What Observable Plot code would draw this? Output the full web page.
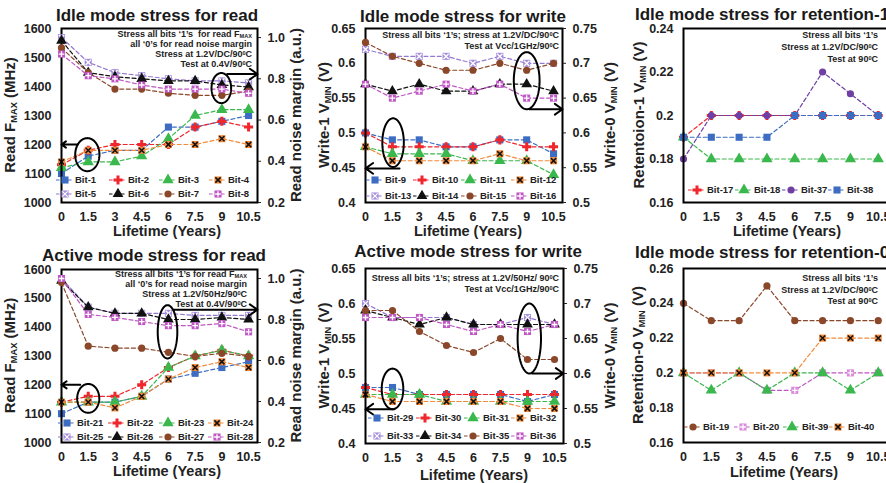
<!DOCTYPE html>
<html>
<head>
<meta charset="utf-8">
<script src="https://cdn.jsdelivr.net/npm/d3@7"></script>
<script src="https://cdn.jsdelivr.net/npm/@observablehq/plot@0.6"></script>
<style>
html,body{margin:0;padding:0;background:#fff;}
#root{position:relative;width:886px;height:483px;overflow:hidden;background:#fff;}
#root svg{position:absolute;left:0;top:0;}
</style>
</head>
<body>
<div id="root"></div>
<script>
// ---------- data ----------
const years = [0, 1.5, 3, 4.5, 6, 7.5, 9, 10.5];
const xTickLabels = years;

// Idle mode read: F_MAX (MHz) and noise margin (a.u.)
const bit1 = [1100, 1160, 1180, 1180, 1260, 1260, 1280, 1300];
const bit2 = [1130, 1180, 1200, 1200, 1200, 1260, 1280, 1260];
const bit3 = [1120, 1140, 1140, 1160, 1220, 1300, 1320, 1320];
const bit4 = [1140, 1180, 1180, 1180, 1200, 1200, 1220, 1200];
const bit5 = [1.0, 0.88, 0.83, 0.815, 0.80, 0.79, 0.79, 0.78];
const bit6 = [0.985, 0.83, 0.81, 0.80, 0.79, 0.79, 0.77, 0.76];
const bit7 = [0.95, 0.83, 0.75, 0.75, 0.73, 0.72, 0.72, 0.74];
const bit8 = [0.92, 0.815, 0.80, 0.77, 0.75, 0.75, 0.75, 0.73];
// Idle mode write: Write-1 VMIN and Write-0 VMIN (V)
const bit9  = [0.50, 0.49, 0.49, 0.48, 0.48, 0.49, 0.49, 0.47];
const bit10 = [0.50, 0.48, 0.48, 0.48, 0.48, 0.49, 0.48, 0.48];
const bit11 = [0.48, 0.47, 0.47, 0.47, 0.46, 0.46, 0.46, 0.44];
const bit12 = [0.48, 0.46, 0.46, 0.46, 0.46, 0.47, 0.46, 0.46];
const bit13 = [0.72, 0.71, 0.71, 0.71, 0.70, 0.71, 0.70, 0.70];
const bit14 = [0.67, 0.66, 0.67, 0.66, 0.66, 0.67, 0.67, 0.66];
const bit15 = [0.73, 0.71, 0.70, 0.69, 0.69, 0.70, 0.69, 0.70];
const bit16 = [0.67, 0.65, 0.66, 0.67, 0.66, 0.67, 0.65, 0.65];
// Idle mode retention-1 VMIN (V)
const bit17 = [0.19, 0.20, 0.20, 0.20, 0.20, 0.20, 0.20, 0.20];
const bit18 = [0.19, 0.18, 0.18, 0.18, 0.18, 0.18, 0.18, 0.18];
const bit37 = [0.18, 0.20, 0.20, 0.20, 0.20, 0.22, 0.21, 0.20];
const bit38 = [0.19, 0.19, 0.19, 0.19, 0.20, 0.20, 0.20, 0.20];
// Active mode read
const bit21 = [1100, 1140, 1140, 1160, 1220, 1240, 1260, 1280];
const bit22 = [1140, 1160, 1160, 1200, 1260, 1300, 1320, 1300];
const bit23 = [1140, 1140, 1140, 1160, 1260, 1300, 1320, 1300];
const bit24 = [1140, 1140, 1120, 1160, 1220, 1260, 1280, 1260];
const bit25 = [1.0, 0.86, 0.83, 0.83, 0.83, 0.82, 0.82, 0.82];
const bit26 = [0.99, 0.86, 0.83, 0.83, 0.80, 0.80, 0.81, 0.80];
const bit27 = [0.98, 0.67, 0.66, 0.66, 0.64, 0.62, 0.635, 0.62];
const bit28 = [1.0, 0.825, 0.81, 0.79, 0.77, 0.77, 0.78, 0.74];
// Active mode write
const bit29 = [0.48, 0.48, 0.47, 0.47, 0.47, 0.47, 0.46, 0.47];
const bit30 = [0.48, 0.47, 0.47, 0.47, 0.47, 0.47, 0.47, 0.47];
const bit31 = [0.47, 0.47, 0.47, 0.46, 0.46, 0.46, 0.46, 0.46];
const bit32 = [0.47, 0.46, 0.46, 0.46, 0.46, 0.46, 0.45, 0.45];
const bit33 = [0.70, 0.68, 0.68, 0.68, 0.67, 0.67, 0.68, 0.67];
const bit34 = [0.69, 0.68, 0.67, 0.68, 0.67, 0.67, 0.67, 0.67];
const bit35 = [0.69, 0.69, 0.66, 0.64, 0.63, 0.65, 0.62, 0.62];
const bit36 = [0.68, 0.68, 0.68, 0.67, 0.66, 0.67, 0.66, 0.67];
// Idle mode retention-0 VMIN (V)
const bit19 = [0.24, 0.23, 0.23, 0.25, 0.23, 0.23, 0.23, 0.23];
const bit20 = [0.20, 0.20, 0.20, 0.19, 0.19, 0.20, 0.20, 0.20];
const bit39 = [0.20, 0.19, 0.20, 0.19, 0.20, 0.20, 0.19, 0.20];
const bit40 = [0.20, 0.20, 0.20, 0.20, 0.20, 0.22, 0.22, 0.22];

// tick values
const fmaxTicks = [1000, 1100, 1200, 1300, 1400, 1500, 1600];
const nmTicks = [0.2, 0.4, 0.6, 0.8, 1.0];
const w1Ticks = [0.4, 0.45, 0.5, 0.55, 0.6, 0.65];
const w0Ticks = [0.5, 0.55, 0.6, 0.65, 0.7, 0.75];
const r1Ticks = [0.16, 0.18, 0.2, 0.22, 0.24];
const r0Ticks = [0.16, 0.18, 0.2, 0.22, 0.24, 0.26];

// ---------- styles ----------
const FONT = "'Liberation Sans', Arial, Helvetica, sans-serif";
const C = {blue:"#3d6dc2", red:"#f0262c", green:"#3ab84d", orange:"#f28b3c", purple:"#9479cf",
           black:"#111", brown:"#8a472a", magenta:"#bf56c4", violet:"#6f3fa3"};
const M = {
  blueSquare: {line:C.blue, layers:[{symbol:"square", fill:C.blue, r:4}]},
  redCross: {line:C.red, layers:[{symbol:"cross", fill:C.red, r:3.8}]},
  greenTri: {line:C.green, layers:[{symbol:"triangle", fill:C.green, r:4.2}]},
  orangeX: {line:C.orange, layers:[{symbol:"square", fill:C.orange, r:4}, {symbol:"times", stroke:"#111", r:2.5, sw:1.5}]},
  purpleX: {line:C.purple, layers:[{symbol:"square", fill:"#a58ddb", r:4}, {symbol:"times", stroke:"#fff", r:2.5, sw:1.3}]},
  blackTri: {line:C.black, layers:[{symbol:"triangle", fill:C.black, r:4}]},
  brownCircle: {line:C.brown, layers:[{symbol:"circle", fill:C.brown, r:3.6}]},
  magentaPlus: {line:C.magenta, layers:[{symbol:"square", fill:C.magenta, r:4}, {symbol:"plus", stroke:"#fff", r:2, sw:1.3}]},
  magentaPlusLight: {line:C.magenta, layers:[{symbol:"square", fill:"#d98bdc", r:4}, {symbol:"plus", stroke:"#fff", r:2, sw:1.3}]},
  violetCircle: {line:C.violet, layers:[{symbol:"circle", fill:C.violet, r:3.6}]}
};
const symMap = {square:d3.symbolSquare, circle:d3.symbolCircle, triangle:d3.symbolTriangle,
                cross:d3.symbolCross, times:d3.symbolTimes, plus:d3.symbolPlus};

const STYLE = `background:transparent;max-width:none;overflow:visible;font-family:${FONT};font-size:12.5px;font-weight:bold;color:#222;`;

// ---------- panels ----------
const panels = [
  {L:61, R:257, T:28, B:202,
   yL:{domain:[1000,1600], ticks:fmaxTicks}, yR:{domain:[0.2,1.044], ticks:nmTicks, fmt:d=>d.toFixed(1)},
   left:[["Bit-1",bit1,M.blueSquare],["Bit-2",bit2,M.redCross],["Bit-3",bit3,M.greenTri],["Bit-4",bit4,M.orangeX]],
   right:[["Bit-5",bit5,M.purpleX],["Bit-6",bit6,M.blackTri],["Bit-7",bit7,M.brownCircle],["Bit-8",bit8,M.magentaPlus]],
   ellL:[{cx:1.45,cy:1165,rx:0.68,ry:57}], arrL:[{x1:0.91,y1:1200,x2:0,y2:1200}],
   ellR:[{cx:8.97,cy:0.755,rx:0.55,ry:0.073}], arrR:[{x1:9.3,y1:0.823,x2:11,y2:0.823}],
   title:{text:"Idle mode stress for read", x:157, y:21, anchor:"middle"},
   ylab:{text:"Read F_{MAX} (MHz)", x:10}, yrlab:{text:"Read noise margin (a.u.)", x:296},
   xlab:{x:167, y:236},
   annot:{lines:["Stress all bits ‘1’s  for read F_{MAX}","all ‘0’s for read noise margin","Stress at 1.2V/DC/90^{0}C","Test at 0.4V/90^{0}C"], x:252, y0:37, dy:10},
   legend:{cols:[65,118,168,218], rows:[180,194]}},
  {L:365, R:562, T:28, B:202,
   yL:{domain:[0.4,0.65], ticks:w1Ticks}, yR:{domain:[0.5,0.75], ticks:w0Ticks},
   left:[["Bit-9",bit9,M.blueSquare],["Bit-10",bit10,M.redCross],["Bit-11",bit11,M.greenTri],["Bit-12",bit12,M.orangeX]],
   right:[["Bit-13",bit13,M.purpleX],["Bit-14",bit14,M.blackTri],["Bit-15",bit15,M.brownCircle],["Bit-16",bit16,M.magentaPlus]],
   ellL:[{cx:1.54,cy:0.486,rx:0.6,ry:0.035}], arrL:[{x1:1.9,y1:0.449,x2:0,y2:0.449}],
   ellR:[{cx:9.0,cy:0.675,rx:0.72,ry:0.041}], arrR:[{x1:9.15,y1:0.634,x2:11,y2:0.634}],
   title:{text:"Idle mode stress for write", x:463, y:22, anchor:"middle"},
   ylab:{text:"Write-1 V_{MIN} (V)", x:324}, yrlab:{text:"Write-0 V_{MIN} (V)", x:610},
   xlab:{x:468, y:236},
   annot:{lines:["Stress all bits ‘1’s; stress at 1.2V/DC/90^{0}C","Test at Vcc/1GHz/90^{0}C"], x:559, y0:38, dy:10.5},
   legend:{cols:[375,422,470,520], rows:[180,196]}},
  {L:683, R:887, svgW:900, T:28, B:202,
   yL:{domain:[0.16,0.24], ticks:r1Ticks},
   left:[["Bit-17",bit17,M.redCross],["Bit-18",bit18,M.greenTri],["Bit-37",bit37,M.violetCircle],["Bit-38",bit38,M.blueSquare]],
   title:{text:"Idle mode stress for retention-1", x:635, y:20, anchor:"start"},
   ylab:{text:"Retentoion-1 V_{MIN} (V)", x:639},
   xlab:{x:787, y:236},
   annot:{lines:["Stress all bits ‘1’s","Stress at 1.2V/DC/90^{0}C","Test at 90^{0}C"], x:878, y0:38, dy:12},
   legend:{cols:[697,744,791,837], rows:[190]}},
  {L:61, R:257, T:269, B:442,
   yL:{domain:[1000,1600], ticks:fmaxTicks}, yR:{domain:[0.2,1.044], ticks:nmTicks, fmt:d=>d.toFixed(1)},
   left:[["Bit-21",bit21,M.blueSquare],["Bit-22",bit22,M.redCross],["Bit-23",bit23,M.greenTri],["Bit-24",bit24,M.orangeX]],
   right:[["Bit-25",bit25,M.purpleX],["Bit-26",bit26,M.blackTri],["Bit-27",bit27,M.brownCircle],["Bit-28",bit28,M.magentaPlus]],
   ellL:[{cx:1.5,cy:1153,rx:0.62,ry:50}], arrL:[{x1:1.05,y1:1200,x2:0,y2:1200}],
   ellR:[{cx:5.95,cy:0.74,rx:0.55,ry:0.13}], arrR:[{x1:6.28,y1:0.848,x2:11,y2:0.848}],
   title:{text:"Active mode stress for read", x:154, y:261, anchor:"middle"},
   ylab:{text:"Read F_{MAX} (MHz)", x:10}, yrlab:{text:"Read noise margin (a.u.)", x:296},
   xlab:{x:167, y:476},
   annot:{lines:["Stress all bits ‘1’s for read F_{MAX}","all ‘0’s for read noise margin","Stress at 1.2V/50Hz/90^{0}C","Test at 0.4V/90^{0}C"], x:247, y0:277, dy:10},
   legend:{cols:[67,117,168,217], rows:[423,437]}},
  {L:365, R:563, T:268, B:443,
   yL:{domain:[0.4,0.65], ticks:w1Ticks}, yR:{domain:[0.5,0.75], ticks:w0Ticks},
   left:[["Bit-29",bit29,M.blueSquare],["Bit-30",bit30,M.redCross],["Bit-31",bit31,M.greenTri],["Bit-32",bit32,M.orangeX]],
   right:[["Bit-33",bit33,M.purpleX],["Bit-34",bit34,M.blackTri],["Bit-35",bit35,M.brownCircle],["Bit-36",bit36,M.magentaPlus]],
   ellL:[{cx:1.5,cy:0.478,rx:0.6,ry:0.029}], arrL:[{x1:1.6,y1:0.449,x2:0,y2:0.449}],
   ellR:[{cx:9.1,cy:0.65,rx:0.65,ry:0.05}], arrR:[{x1:9.25,y1:0.6,x2:11,y2:0.6}],
   title:{text:"Active mode stress for write", x:468, y:257, anchor:"middle"},
   ylab:{text:"Write-1 V_{MIN} (V)", x:324}, yrlab:{text:"Write-0 V_{MIN} (V)", x:610},
   xlab:{x:474, y:480},
   annot:{lines:["Stress all bits ‘1’s; stress at 1.2V/50Hz/ 90^{0}C","Test at Vcc/1GHz/90^{0}C"], x:559, y0:281, dy:11},
   legend:{cols:[377,425,473,520], rows:[418,436]}},
  {L:683, R:887, svgW:900, T:268, B:442,
   yL:{domain:[0.16,0.26], ticks:r0Ticks},
   left:[["Bit-19",bit19,M.brownCircle],["Bit-20",bit20,M.magentaPlusLight],["Bit-39",bit39,M.greenTri],["Bit-40",bit40,M.orangeX]],
   title:{text:"Idle mode stress for retention-0", x:635, y:258, anchor:"start"},
   ylab:{text:"Retention-0 V_{MIN} (V)", x:638},
   xlab:{x:784, y:477},
   annot:{lines:["Stress all bits ‘1’s","Stress at 1.2V/DC/90^{0}C","Test at 90^{0}C"], x:878, y0:281, dy:11.5},
   legend:{cols:[693,743,792,838], rows:[427]}}
];

// ---------- helpers ----------
function rich(sel, str) {
  const re = /([_^])\{([^}]*)\}/g;
  let last = 0, m;
  while ((m = re.exec(str))) {
    if (m.index > last) sel.append("tspan").text(str.slice(last, m.index));
    sel.append("tspan").attr("baseline-shift", m[1] === "_" ? "-22%" : "38%")
       .attr("font-size", "62%").text(m[2]);
    last = re.lastIndex;
  }
  if (last < str.length) sel.append("tspan").text(str.slice(last));
}
function addText(svg, x, y, str, o) {
  const t = d3.select(svg).append("text")
    .attr("transform", `translate(${x},${y})` + (o.rotate ? ` rotate(${o.rotate})` : ""))
    .attr("text-anchor", o.anchor || "start")
    .attr("font-family", FONT).attr("font-weight", "bold")
    .attr("font-size", o.size).attr("fill", o.fill || "#222");
  if (o.dy) t.attr("dy", o.dy);
  rich(t, str);
  return t;
}
function seriesMarks(series) {
  const marks = [];
  for (const [name, vals, mk] of series) {
    const data = years.map((x, i) => ({x, y: vals[i]}));
    marks.push(Plot.line(data, {x:"x", y:"y", stroke:mk.line, strokeWidth:1.2, strokeDasharray:"4,2.6"}));
    for (const l of mk.layers) {
      marks.push(Plot.dot(data, {x:"x", y:"y", symbol:l.symbol, r:l.r,
        fill:l.fill || "none", stroke:l.stroke || "none", strokeWidth:l.sw || 1}));
    }
  }
  return marks;
}
function annoMarks(ells, arrs) {
  const marks = [];
  for (const e of ells || []) {
    const pts = d3.range(0, 121).map(i => {
      const t = i / 120 * 2 * Math.PI;
      return {x: e.cx + e.rx * Math.cos(t), y: e.cy + e.ry * Math.sin(t)};
    });
    marks.push(Plot.line(pts, {x:"x", y:"y", stroke:"#000", strokeWidth:2}));
  }
  for (const a of arrs || []) {
    marks.push(Plot.arrow([a], {x1:"x1", y1:"y1", x2:"x2", y2:"y2", stroke:"#000",
      strokeWidth:2, headLength:7, headAngle:70, bend:0}));
  }
  return marks;
}

const root = document.getElementById("root");

for (const p of panels) {
  const svgW = p.svgW || 886;
  const common = {width:svgW, height:483, marginLeft:p.L, marginRight:svgW - p.R,
                  marginTop:p.T, marginBottom:483 - p.B, style:STYLE};
  const left = Plot.plot({
    ...common,
    x:{domain:[0, 11], ticks:xTickLabels, tickSize:0, tickPadding:10, tickFormat:d => String(d), label:null},
    y:{domain:p.yL.domain, ticks:p.yL.ticks, tickSize:0, tickPadding:10, tickFormat:p.yL.fmt || (d => String(d)), label:null},
    marks:[...seriesMarks(p.left), ...annoMarks(p.ellL, p.arrL), Plot.frame({stroke:"#000", strokeWidth:2})]
  });
  root.appendChild(left);
  let top = left;
  if (p.right) {
    const right = Plot.plot({
      ...common,
      x:{domain:[0, 11], axis:null},
      y:{domain:p.yR.domain, ticks:p.yR.ticks, axis:"right", tickSize:3, tickPadding:7,
         tickFormat:p.yR.fmt || (d => String(d)), label:null},
      marks:[...seriesMarks(p.right), ...annoMarks(p.ellR, p.arrR)]
    });
    root.appendChild(right);
    top = right;
  }
  const midY = (p.T + p.B) / 2;
  addText(top, p.title.x, p.title.y, p.title.text, {size:17, anchor:p.title.anchor, fill:"#1a1a1a"});
  addText(top, p.ylab.x, midY, p.ylab.text, {size:15, anchor:"middle", rotate:-90, dy:"0.35em"});
  if (p.yrlab) addText(top, p.yrlab.x, midY, p.yrlab.text, {size:15, anchor:"middle", rotate:-90, dy:"0.35em"});
  addText(top, p.xlab.x, p.xlab.y, "Lifetime (Years)", {size:14.5, anchor:"middle"});
  p.annot.lines.forEach((s, i) => addText(top, p.annot.x, p.annot.y0 + i * p.annot.dy, s, {size:9, anchor:"end"}));
  // legend
  const items = [...p.left, ...(p.right || [])];
  const g = d3.select(top).append("g");
  items.forEach(([name, vals, mk], i) => {
    const col = i % 4, row = Math.floor(i / 4);
    const mx = p.legend.cols[col], my = p.legend.rows[row];
    g.append("line").attr("x1", mx - 9).attr("x2", mx + 8).attr("y1", my).attr("y2", my)
      .attr("stroke", mk.line).attr("stroke-width", 1.2).attr("stroke-dasharray", "3.5,2.5");
    for (const l of mk.layers) {
      g.append("path").attr("d", d3.symbol(symMap[l.symbol], Math.PI * l.r * l.r)())
        .attr("transform", `translate(${mx},${my})`)
        .attr("fill", l.fill || "none").attr("stroke", l.stroke || "none").attr("stroke-width", l.sw || 1);
    }
    addText(top, mx + 10, my + 3.4, name, {size:9.5, anchor:"start"});
  });
}
</script>
</body>
</html>
